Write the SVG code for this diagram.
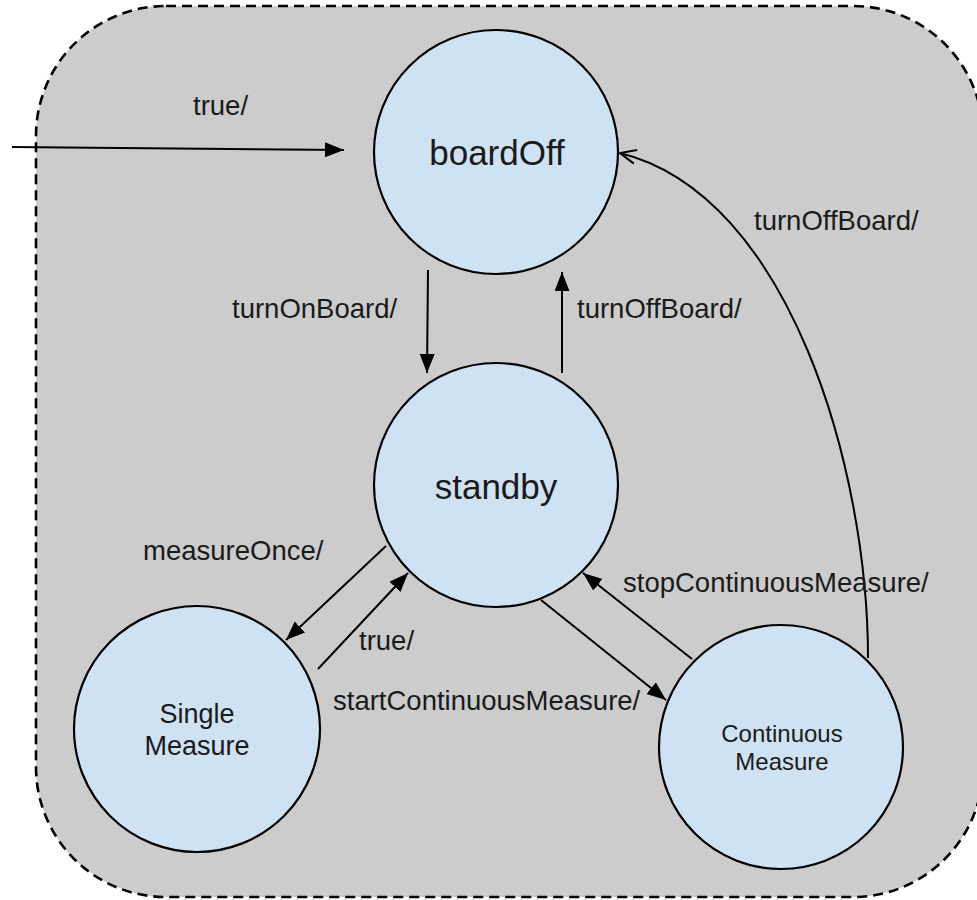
<svg xmlns="http://www.w3.org/2000/svg" width="977" height="900" viewBox="0 0 977 900">
  <style>
    .frame { fill: #cccccc; stroke: #000; stroke-width: 2.6; stroke-dasharray: 10 6; }
    .state { fill: #cfe2f3; stroke: #000; stroke-width: 2.2; }
    .edge { fill: none; stroke: #000; stroke-width: 2; }
    .txt { font-family: "Liberation Sans", Arial, sans-serif; fill: #1a1a1a; }
    .big { font-size: 35px; }
    .lbl { font-size: 27.5px; }
    .mid { font-size: 27px; }
    .small { font-size: 24px; }
  </style>
  <defs>
    <marker id="solid" markerUnits="userSpaceOnUse" markerWidth="22" markerHeight="18" refX="19" refY="7.5" orient="auto">
      <path d="M0,0 L19,7.5 L0,15 Z" fill="#000"/>
    </marker>
    <marker id="open" markerUnits="userSpaceOnUse" markerWidth="20" markerHeight="18" refX="17" refY="8" orient="auto">
      <path d="M1,1 L17,8 L1,15" fill="none" stroke="#000" stroke-width="2"/>
    </marker>
  </defs>

  <!-- enclosing state region -->
  <rect class="frame" x="36" y="6" width="947" height="891" rx="130" ry="130"/>

  <!-- states -->
  <g id="boardOff">
    <circle class="state" cx="496" cy="152" r="122"/>
    <text class="txt big" x="497" y="165" text-anchor="middle">boardOff</text>
  </g>
  <g id="standby">
    <circle class="state" cx="496" cy="485" r="122"/>
    <text class="txt big" x="496" y="499" text-anchor="middle">standby</text>
  </g>
  <g id="singleMeasure">
    <circle class="state" cx="197" cy="729" r="123"/>
    <text class="txt mid" x="197" y="723" text-anchor="middle">Single</text>
    <text class="txt mid" x="197" y="755" text-anchor="middle">Measure</text>
  </g>
  <g id="continuousMeasure">
    <circle class="state" cx="781" cy="747" r="122"/>
    <text class="txt small" x="782" y="742" text-anchor="middle">Continuous</text>
    <text class="txt small" x="782" y="770" text-anchor="middle">Measure</text>
  </g>

  <!-- transitions -->
  <g id="transitions">
    <line class="edge" x1="12" y1="147" x2="344" y2="150" marker-end="url(#solid)"/>
    <line class="edge" x1="428" y1="270" x2="427" y2="373" marker-end="url(#solid)"/>
    <line class="edge" x1="562" y1="373" x2="562" y2="272" marker-end="url(#solid)"/>
    <path class="edge" d="M868,658 C868,470 790,195 620,153" marker-end="url(#open)"/>
    <line class="edge" x1="386" y1="546" x2="286" y2="640" marker-end="url(#solid)"/>
    <line class="edge" x1="318" y1="669" x2="408" y2="573" marker-end="url(#solid)"/>
    <line class="edge" x1="541" y1="600" x2="666" y2="700" marker-end="url(#solid)"/>
    <line class="edge" x1="692" y1="659" x2="583" y2="573" marker-end="url(#solid)"/>
  </g>

  <!-- transition labels -->
  <g id="labels" class="txt lbl">
    <text x="193" y="115">true/</text>
    <text x="232" y="318">turnOnBoard/</text>
    <text x="577" y="318">turnOffBoard/</text>
    <text x="754" y="230">turnOffBoard/</text>
    <text x="143" y="560">measureOnce/</text>
    <text x="359" y="650">true/</text>
    <text x="333" y="710">startContinuousMeasure/</text>
    <text x="623" y="592">stopContinuousMeasure/</text>
  </g>
</svg>
